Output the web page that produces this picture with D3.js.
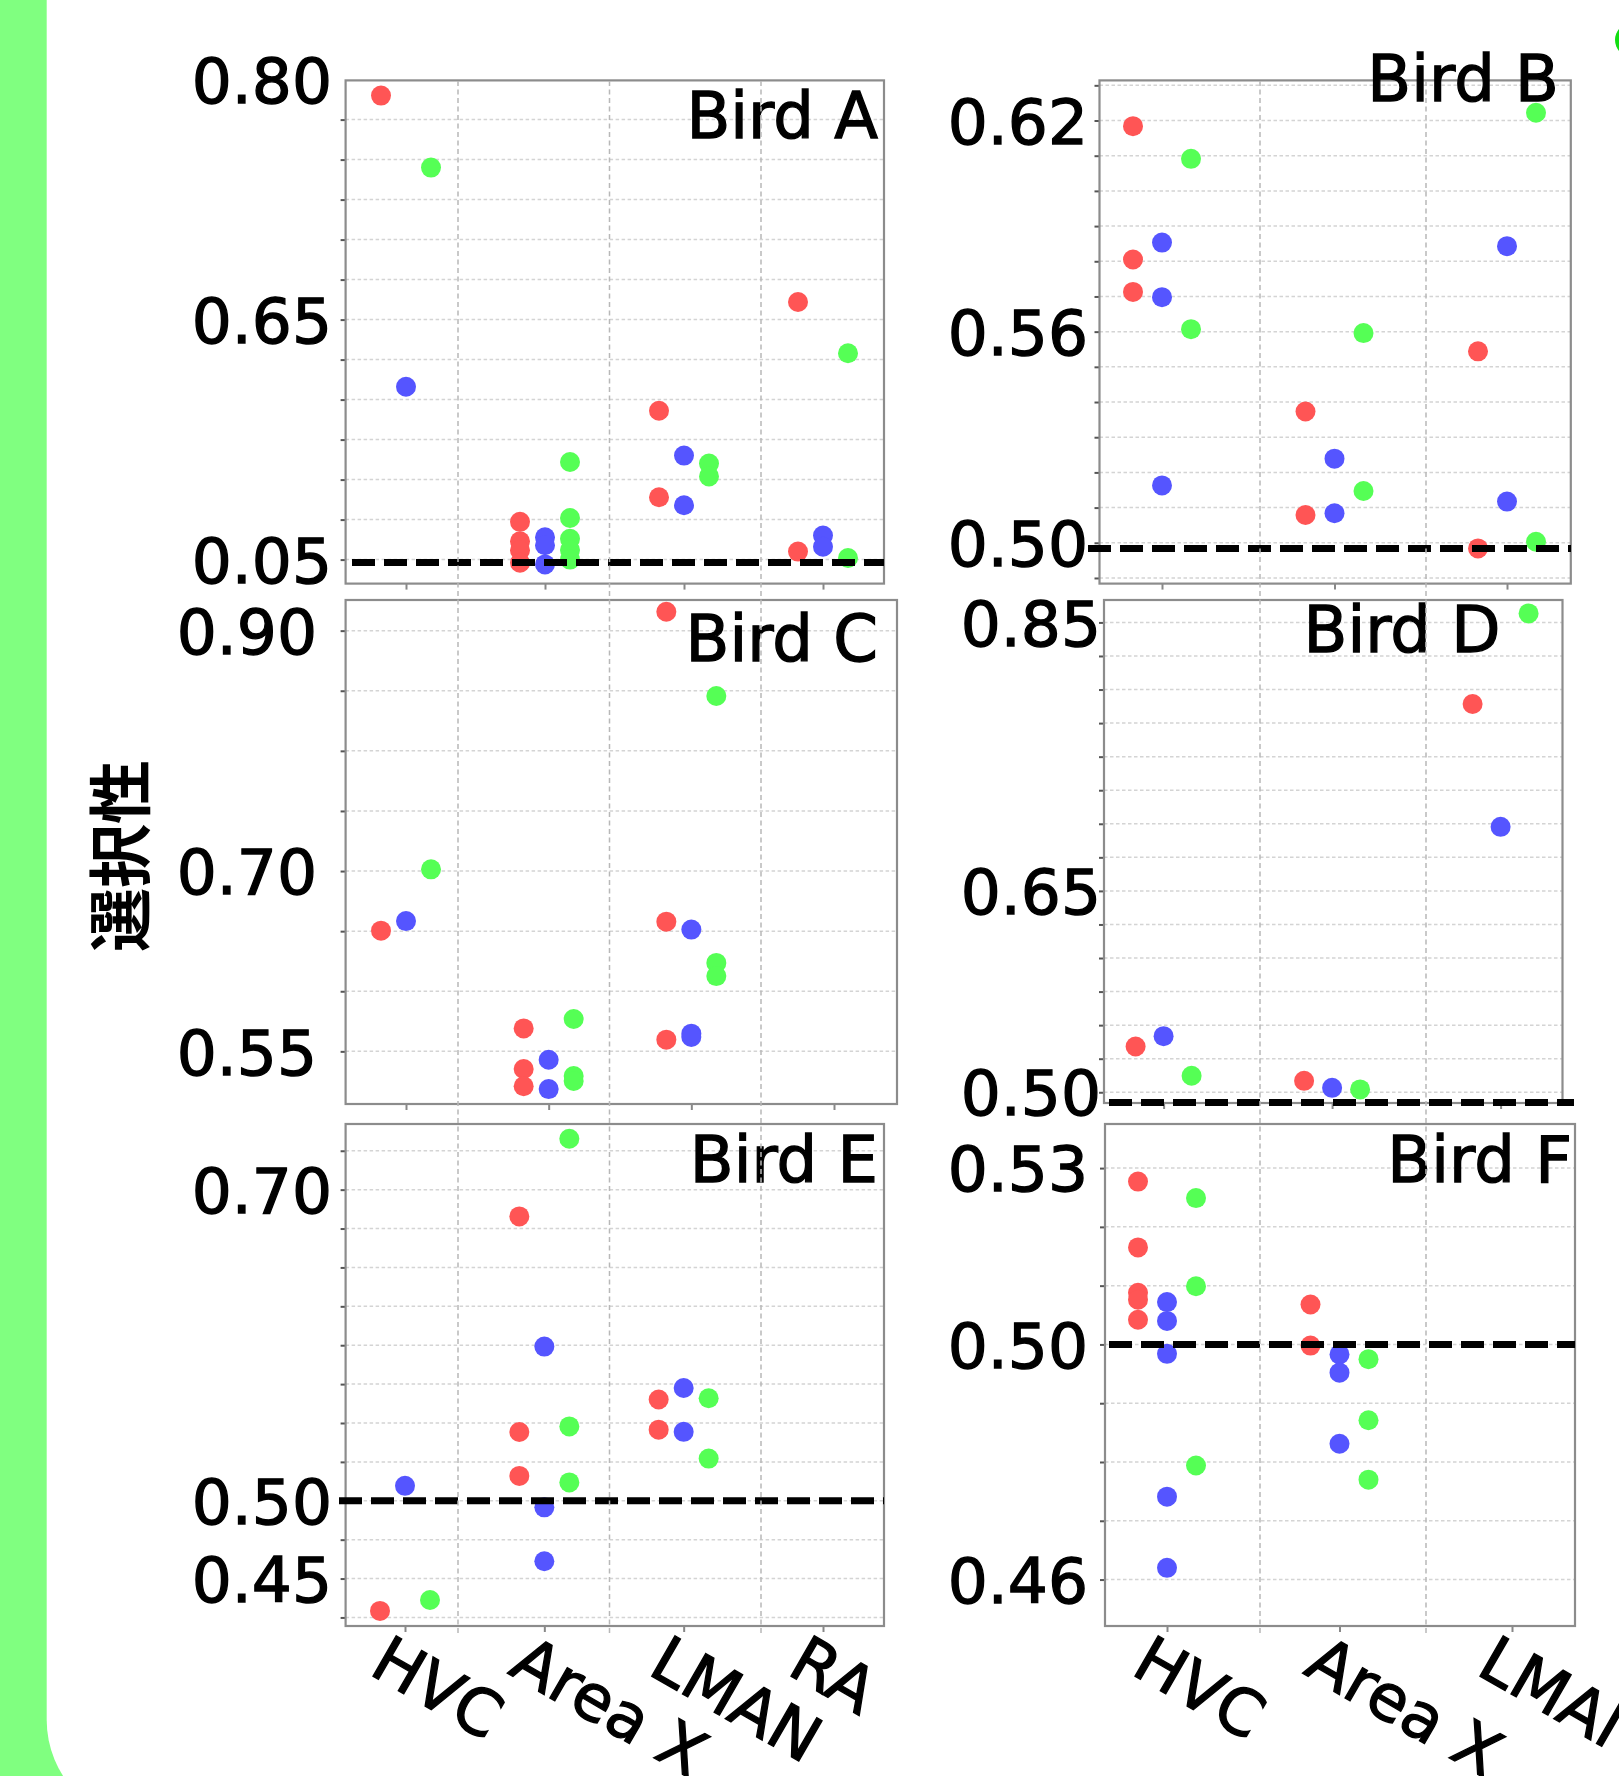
<!DOCTYPE html>
<html>
<head>
<meta charset="utf-8">
<script src="https://cdnjs.cloudflare.com/ajax/libs/d3/7.8.5/d3.min.js"></script>
<style>
  body { margin: 0; background: #80ff80; }
  svg { display: block; }
</style>
</head>
<body>
<svg id="chart" width="1619" height="1776"></svg>
<script>

// regions on the x axis
var regionsLeft = ['HVC', 'Area X', 'LMAN', 'RA'];
var regionsRight = ['HVC', 'Area X', 'LMAN'];

// [region, series, selectivity]   series: r / b / g
var birdA = [
  ['HVC', 'r', 0.790], ['Area X', 'r', 0.5236], ['Area X', 'r', 0.5114], ['Area X', 'r', 0.5058], ['Area X', 'r', 0.498],
  ['LMAN', 'r', 0.593], ['LMAN', 'r', 0.539], ['RA', 'r', 0.661], ['RA', 'r', 0.505],
  ['HVC', 'b', 0.608], ['Area X', 'b', 0.514], ['Area X', 'b', 0.509], ['Area X', 'b', 0.497],
  ['LMAN', 'b', 0.565], ['LMAN', 'b', 0.534], ['RA', 'b', 0.515], ['RA', 'b', 0.508],
  ['HVC', 'g', 0.745], ['Area X', 'g', 0.561], ['Area X', 'g', 0.526], ['Area X', 'g', 0.513], ['Area X', 'g', 0.506], ['Area X', 'g', 0.500],
  ['LMAN', 'g', 0.560], ['LMAN', 'g', 0.552], ['RA', 'g', 0.629], ['RA', 'g', 0.501]
];
var birdB = [
  ['HVC', 'r', 0.6184], ['HVC', 'r', 0.5805], ['HVC', 'r', 0.5713], ['Area X', 'r', 0.5373], ['Area X', 'r', 0.5079],
  ['LMAN', 'r', 0.5544], ['LMAN', 'r', 0.4984],
  ['HVC', 'b', 0.5853], ['HVC', 'b', 0.5698], ['HVC', 'b', 0.5163], ['Area X', 'b', 0.5239], ['Area X', 'b', 0.5084],
  ['LMAN', 'b', 0.5843], ['LMAN', 'b', 0.5117],
  ['HVC', 'g', 0.6091], ['HVC', 'g', 0.5607], ['Area X', 'g', 0.5596], ['Area X', 'g', 0.5147],
  ['LMAN', 'g', 0.6222], ['LMAN', 'g', 0.5003]
];
var birdC = [
  ['HVC', 'r', 0.6504], ['Area X', 'r', 0.5691], ['Area X', 'r', 0.5353], ['Area X', 'r', 0.521],
  ['LMAN', 'r', 0.9157], ['LMAN', 'r', 0.6579], ['LMAN', 'r', 0.5597],
  ['HVC', 'b', 0.6584], ['Area X', 'b', 0.543], ['Area X', 'b', 0.5186],
  ['LMAN', 'b', 0.6513], ['LMAN', 'b', 0.5647], ['LMAN', 'b', 0.562],
  ['HVC', 'g', 0.7014], ['Area X', 'g', 0.5769], ['Area X', 'g', 0.5295], ['Area X', 'g', 0.5253],
  ['LMAN', 'g', 0.8456], ['LMAN', 'g', 0.6236], ['LMAN', 'g', 0.6126]
];
var birdD = [
  ['HVC', 'r', 0.5341], ['Area X', 'r', 0.5085], ['LMAN', 'r', 0.7892],
  ['HVC', 'b', 0.5418], ['Area X', 'b', 0.5033], ['LMAN', 'b', 0.6977],
  ['HVC', 'g', 0.5123], ['Area X', 'g', 0.5021], ['LMAN', 'g', 0.8567]
];
var birdE = [
  ['HVC', 'r', 0.4292], ['Area X', 'r', 0.6828], ['Area X', 'r', 0.5442], ['Area X', 'r', 0.5160],
  ['LMAN', 'r', 0.5651], ['LMAN', 'r', 0.5457],
  ['HVC', 'b', 0.5096], ['Area X', 'b', 0.5991], ['Area X', 'b', 0.4958], ['Area X', 'b', 0.4611],
  ['LMAN', 'b', 0.5725], ['LMAN', 'b', 0.5443],
  ['HVC', 'g', 0.4362], ['Area X', 'g', 0.7327], ['Area X', 'g', 0.5478], ['Area X', 'g', 0.5118],
  ['LMAN', 'g', 0.5659], ['LMAN', 'g', 0.5271]
];
var birdF = [
  ['HVC', 'r', 0.5277], ['HVC', 'r', 0.5165], ['HVC', 'r', 0.5088], ['HVC', 'r', 0.5076], ['HVC', 'r', 0.5042],
  ['Area X', 'r', 0.5068], ['Area X', 'r', 0.4998],
  ['HVC', 'b', 0.5072], ['HVC', 'b', 0.5040], ['HVC', 'b', 0.4984], ['HVC', 'b', 0.4741], ['HVC', 'b', 0.4620],
  ['Area X', 'b', 0.4983], ['Area X', 'b', 0.4952], ['Area X', 'b', 0.4831],
  ['HVC', 'g', 0.5249], ['HVC', 'g', 0.5099], ['HVC', 'g', 0.4794],
  ['Area X', 'g', 0.4975], ['Area X', 'g', 0.4871], ['Area X', 'g', 0.4770]
];

// y tick values and the text printed next to them
var ticksA = [0.50, 0.65, 0.80], tickTextA = ['0.05', '0.65', '0.80'];
var ticksB = [0.50, 0.56, 0.62], tickTextB = ['0.50', '0.56', '0.62'];
var ticksC = [0.55, 0.70, 0.90], tickTextC = ['0.55', '0.70', '0.90'];
var ticksD = [0.50, 0.65, 0.85], tickTextD = ['0.50', '0.65', '0.85'];
var ticksE = [0.45, 0.50, 0.70], tickTextE = ['0.45', '0.50', '0.70'];
var ticksF = [0.46, 0.50, 0.53], tickTextF = ['0.46', '0.50', '0.53'];

// chance level line per panel
var chanceLevel = [0.4982, 0.4984, null, 0.4924, 0.50, 0.50];

var yTitle = '選択性';

var colors = { r: '#ff5555', b: '#5555ff', g: '#55ff55' };
var font = '"DejaVu Sans", sans-serif';

var panels = [
  { title: 'Bird A', data: birdA, cats: regionsLeft, ticks: ticksA, tickText: tickTextA,
    box: [345.6, 80.4, 884, 583.6], dom: [0.485, 0.7995], cat: [406, 823], jit: 25,
    grid: [0.50, 0.025], labelRight: 332, tpos: [878, 137.8], ref: [352, 884], xlab: false },
  { title: 'Bird B', data: birdB, cats: regionsRight, ticks: ticksB, tickText: tickTextB,
    box: [1099.5, 80.4, 1570.8, 583.6], dom: [0.4884, 0.6314], cat: [1162, 1507], jit: 29,
    grid: [0.49, 0.01], labelRight: 1088, tpos: [1559, 101.4], ref: [1088, 1571], xlab: false },
  { title: 'Bird C', data: birdC, cats: regionsLeft, ticks: ticksC, tickText: tickTextC,
    box: [345.6, 600, 897, 1104], dom: [0.5062, 0.9255], cat: [406, 834], jit: 25,
    grid: [0.55, 0.05], labelRight: 317, tpos: [878, 661], ref: null, xlab: false },
  { title: 'Bird D', data: birdD, cats: regionsRight, ticks: ticksD, tickText: tickTextD,
    box: [1104, 600, 1562.5, 1103], dom: [0.492, 0.8667], cat: [1163.6, 1500.6], jit: 28,
    grid: [0.50, 0.025], labelRight: 1101, tpos: [1500.6, 652], ref: [1109, 1574], xlab: false },
  { title: 'Bird E', data: birdE, cats: regionsLeft, ticks: ticksE, tickText: tickTextE,
    box: [345.6, 1124, 884, 1626], dom: [0.4195, 0.7422], cat: [405, 823], jit: 25,
    grid: [0.425, 0.025], labelRight: 332, tpos: [878, 1182], ref: [339, 884], xlab: true },
  { title: 'Bird F', data: birdF, cats: regionsRight, ticks: ticksF, tickText: tickTextF,
    box: [1105, 1124, 1575, 1626], dom: [0.4521, 0.5375], cat: [1167, 1512], jit: 29,
    grid: [0.46, 0.01], labelRight: 1088, tpos: [1572, 1182], ref: [1109, 1575], xlab: true }
];

var svg = d3.select('#chart');

// heavier black text, like the source figure
function inkText(sel) {
  sel.attr('fill', '#000').attr('stroke', '#000').attr('stroke-width', 1.3);
}

// white card over the green background
svg.append('rect')
  .attr('x', 46.7).attr('y', -400)
  .attr('width', 2000).attr('height', 2224)
  .attr('rx', 104).attr('fill', '#ffffff');

// cut-off legend marker at the top right
svg.append('circle')
  .attr('cx', 1632).attr('cy', 40).attr('r', 17)
  .attr('fill', '#11dd11');

// column-wide vertical grid lines
var gridLeft = d3.scaleLinear().domain([0, 4]).range([306.5, 912.5]);
var gridRight = d3.scaleLinear().domain([0, 3]).range([1094, 1592]);
var vlines = [1, 2, 3].map(function (i) { return gridLeft(i); })
  .concat([1, 2].map(function (i) { return gridRight(i); }));

panels.forEach(function (p, pi) {
  var x0 = p.box[0], y0 = p.box[1], x1 = p.box[2], y1 = p.box[3];
  var y = d3.scaleLinear().domain(p.dom).range([y1, y0]);
  var x = d3.scalePoint().domain(p.cats).range(p.cat);
  var g = svg.append('g');

  var gridVals = [];
  for (var v = p.grid[0]; v <= p.dom[1] + 1e-9; v += p.grid[1]) {
    gridVals.push(+v.toFixed(4));
  }

  // horizontal dotted grid
  g.selectAll('line.hg').data(gridVals).enter().append('line')
    .attr('x1', x0).attr('x2', x1)
    .attr('y1', function (d) { return y(d); })
    .attr('y2', function (d) { return y(d); })
    .attr('stroke', '#d4d4d4').attr('stroke-width', 1.5)
    .attr('stroke-dasharray', '3.5,2.5');

  // small ticks at every grid line
  var minor = g.append('g').attr('transform', 'translate(' + x0 + ',0)')
    .call(d3.axisLeft(y).tickValues(gridVals).tickSize(5).tickFormat(''));
  minor.select('.domain').remove();
  minor.selectAll('line').attr('stroke', '#555').attr('stroke-width', 2);

  // y tick labels
  var ax = g.append('g').attr('transform', 'translate(' + x0 + ',0)')
    .call(d3.axisLeft(y).tickValues(p.ticks).tickSize(0)
      .tickPadding(x0 - p.labelRight)
      .tickFormat(function (d, i) { return p.tickText[i]; }));
  ax.select('.domain').remove();
  ax.selectAll('text')
    .attr('font-family', font).attr('font-size', 63)
    .attr('dy', '0.36em')
    .call(inkText);

  // x ticks
  var xa = g.append('g').attr('transform', 'translate(0,' + y1 + ')')
    .call(d3.axisBottom(x).tickSize(6).tickPadding(0)
      .tickFormat(p.xlab ? null : ''));
  xa.select('.domain').remove();
  xa.selectAll('line').attr('stroke', '#888').attr('stroke-width', 2);
  if (p.xlab) {
    xa.selectAll('text')
      .attr('font-family', font).attr('font-size', 64)
      .attr('text-anchor', 'start')
      .attr('x', -38).attr('y', 47).attr('dy', 0)
      .attr('transform', 'rotate(30,-38,47)')
      .call(inkText);
  }

  // frame
  g.append('rect')
    .attr('x', x0).attr('y', y0)
    .attr('width', x1 - x0).attr('height', y1 - y0)
    .attr('fill', 'none').attr('stroke', '#8c8c8c').attr('stroke-width', 2.2);

  // dots
  var off = { r: -p.jit, b: 0, g: p.jit };
  ['r', 'b', 'g'].forEach(function (s) {
    g.selectAll('circle.' + s)
      .data(p.data.filter(function (d) { return d[1] === s; }))
      .enter().append('circle')
      .attr('class', s)
      .attr('cx', function (d) { return x(d[0]) + off[s]; })
      .attr('cy', function (d) { return y(d[2]); })
      .attr('r', 10)
      .attr('fill', colors[s]);
  });

  // chance line
  if (chanceLevel[pi] !== null) {
    g.append('line')
      .attr('x1', p.ref[0]).attr('x2', p.ref[1])
      .attr('y1', y(chanceLevel[pi])).attr('y2', y(chanceLevel[pi]))
      .attr('stroke', '#000').attr('stroke-width', 7)
      .attr('stroke-dasharray', '23,9');
  }

  // panel title
  g.append('text')
    .attr('x', p.tpos[0]).attr('y', p.tpos[1])
    .attr('text-anchor', 'end')
    .attr('font-family', font).attr('font-size', 64)
    .call(inkText)
    .text(p.title);
});

// vertical dashed grid running through both rows of panels
svg.selectAll('line.vg').data(vlines).enter().append('line')
  .attr('x1', function (d) { return d; }).attr('x2', function (d) { return d; })
  .attr('y1', 81).attr('y2', 1636)
  .attr('stroke', '#b8b8b8').attr('stroke-width', 1.5)
  .attr('stroke-dasharray', '5,3.5');

// y axis title
svg.append('text')
  .attr('transform', 'translate(116,856) rotate(-90)')
  .attr('text-anchor', 'middle').attr('dominant-baseline', 'central')
  .attr('font-family', '"Noto Sans CJK JP", sans-serif')
  .attr('font-weight', 700).attr('font-size', 64).attr('fill', '#000')
  .text(yTitle);

</script>
</body>
</html>
